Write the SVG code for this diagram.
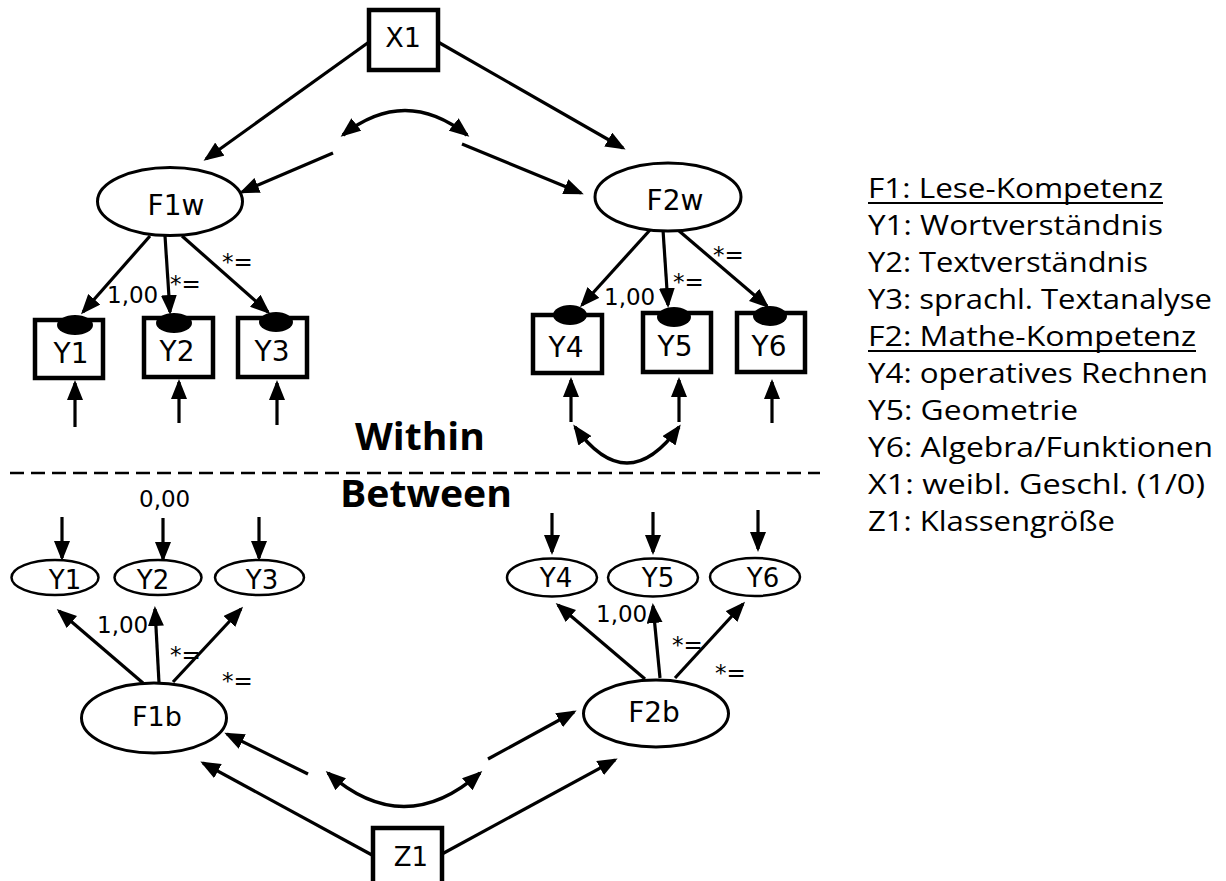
<svg xmlns="http://www.w3.org/2000/svg" width="1226" height="881" viewBox="0 0 1226 881">
  <style>
    .box { fill: #fff; stroke: #000; stroke-width: 4.5; }
    .lat { fill: #fff; stroke: #000; stroke-width: 3; }
    .obs { fill: #fff; stroke: #000; stroke-width: 2.5; }
    .dot { fill: #000; stroke: none; }
    .lbl { font-family: "DejaVu Sans", Verdana, sans-serif; font-size: 28px; fill: #000; text-anchor: middle; }
    .sm { font-family: "DejaVu Sans", Verdana, sans-serif; font-size: 23px; fill: #000; }
    .lvl { font-family: "Open Sans", "Noto Sans", sans-serif; font-weight: bold; font-size: 37px; fill: #000; }
    .leg { font-family: "Open Sans", "Noto Sans", sans-serif; font-size: 28px; fill: #000; }
    .conn path { fill: none; stroke: #000; stroke-width: 3.2; }
    .conn .arr { marker-end: url(#ah); }
    .conn .dbl { marker-start: url(#ah); marker-end: url(#ah); stroke-width: 3.6; }
  </style>
  <defs>
    <!-- filled triangular arrowhead shared by all paths -->
    <marker id="ah" markerUnits="userSpaceOnUse" viewBox="0 0 20 16" markerWidth="20" markerHeight="16" refX="17" refY="8" orient="auto-start-reverse">
      <path d="M0,0 L20,8 L0,16 z" fill="#000"/>
    </marker>
  </defs>

  <rect width="1226" height="881" fill="#fff"/>

  <!-- connectors -->
  <g id="connectors" class="conn">
    <!-- within level: covariate paths -->
    <path class="arr" d="M369,42 L206,159"/>
    <path class="arr" d="M438,42 L623,148"/>
    <path class="dbl" d="M343,135 Q405,86 467,135"/>
    <path class="arr" d="M333,153 L242,192"/>
    <path class="arr" d="M462,144 L581,193"/>
    <!-- within loadings -->
    <path class="arr" d="M150,236 L83,312"/>
    <path class="arr" d="M165,236 L170,312"/>
    <path class="arr" d="M182,236 L268,312"/>
    <path class="arr" d="M650,230 L582,305"/>
    <path class="arr" d="M663,230 L668,305"/>
    <path class="arr" d="M678,230 L767,306"/>
    <!-- within residuals -->
    <path class="arr" d="M75,427 L75,383"/>
    <path class="arr" d="M179,423 L179,382"/>
    <path class="arr" d="M277,425 L277,383"/>
    <path class="arr" d="M571,422 L571,380"/>
    <path class="arr" d="M679,422 L679,380"/>
    <path class="arr" d="M772,423 L772,382"/>
    <path class="dbl" d="M575,427 Q627,499 679,427"/>
    <!-- between intercepts -->
    <path class="arr" d="M62,517 L62,558"/>
    <path class="arr" d="M163,518 L163,559"/>
    <path class="arr" d="M259,517 L259,558"/>
    <path class="arr" d="M552,513 L552,552"/>
    <path class="arr" d="M653,512 L653,552"/>
    <path class="arr" d="M758,510 L758,549"/>
    <!-- between loadings -->
    <path class="arr" d="M143,683 L59,611"/>
    <path class="arr" d="M159,683 L155,609"/>
    <path class="arr" d="M173,682 L241,609"/>
    <path class="arr" d="M645,679 L558,605"/>
    <path class="arr" d="M660,678 L653,606"/>
    <path class="arr" d="M675,678 L743,604"/>
    <!-- between covariate paths -->
    <path class="arr" d="M308,774 L227,734"/>
    <path class="arr" d="M372,855 L203,763"/>
    <path class="dbl" d="M328,773 Q404,840 480,773"/>
    <path class="arr" d="M488,759 L574,712"/>
    <path class="arr" d="M442,854 L615,760"/>
  </g>

  <!-- level separator -->
  <path d="M10,473 L820,473" stroke="#000" stroke-width="2.5" stroke-dasharray="14 7" fill="none"/>
  <text class="lvl" x="355" y="450" textLength="130" lengthAdjust="spacingAndGlyphs">Within</text>
  <text class="lvl" x="340" y="507" textLength="172" lengthAdjust="spacingAndGlyphs">Between</text>

  <!-- path coefficients -->
  <g id="coefficients" class="sm">
    <text x="107" y="303">1,00</text>
    <text x="170" y="292">*=</text>
    <text x="222" y="270">*=</text>
    <text x="604" y="305">1,00</text>
    <text x="673" y="290">*=</text>
    <text x="713" y="263">*=</text>
    <text x="139" y="507">0,00</text>
    <text x="97" y="633">1,00</text>
    <text x="170" y="663">*=</text>
    <text x="222" y="689">*=</text>
    <text x="596" y="622">1,00</text>
    <text x="672" y="653">*=</text>
    <text x="715" y="681">*=</text>
  </g>

  <!-- within level nodes -->
  <g id="X1"><rect class="box" x="369" y="10" width="69" height="60"/><text class="lbl" x="403" y="47" style="font-size:27px">X1</text></g>
  <g id="F1w"><ellipse class="lat" cx="170" cy="201.5" rx="72.5" ry="34"/><text class="lbl" x="176" y="215">F1w</text></g>
  <g id="F2w"><ellipse class="lat" cx="668" cy="197" rx="73" ry="34"/><text class="lbl" x="675" y="210">F2w</text></g>

  <g id="Y1w"><rect class="box" x="35" y="320" width="68" height="58"/><ellipse class="dot" cx="75" cy="325" rx="18" ry="10"/><text class="lbl" x="71" y="363">Y1</text></g>
  <g id="Y2w"><rect class="box" x="144" y="318" width="69" height="59"/><ellipse class="dot" cx="174" cy="323" rx="18" ry="10"/><text class="lbl" x="177" y="361">Y2</text></g>
  <g id="Y3w"><rect class="box" x="238" y="318" width="69" height="59"/><ellipse class="dot" cx="276" cy="322" rx="17" ry="10"/><text class="lbl" x="272" y="361">Y3</text></g>
  <g id="Y4w"><rect class="box" x="533" y="315" width="69" height="58"/><ellipse class="dot" cx="570" cy="315" rx="17" ry="10"/><text class="lbl" x="566" y="357">Y4</text></g>
  <g id="Y5w"><rect class="box" x="643" y="313" width="68" height="59"/><ellipse class="dot" cx="674" cy="317" rx="17" ry="10"/><text class="lbl" x="675" y="356">Y5</text></g>
  <g id="Y6w"><rect class="box" x="737" y="313" width="68" height="59"/><ellipse class="dot" cx="770" cy="316" rx="17" ry="10"/><text class="lbl" x="769" y="356">Y6</text></g>

  <!-- between level nodes -->
  <g id="Y1b"><ellipse class="obs" cx="55" cy="577.5" rx="43.5" ry="17.5"/><text class="lbl" x="65" y="589" style="font-size:26px">Y1</text></g>
  <g id="Y2b"><ellipse class="obs" cx="158" cy="577.5" rx="43.5" ry="17.5"/><text class="lbl" x="153" y="589" style="font-size:26px">Y2</text></g>
  <g id="Y3b"><ellipse class="obs" cx="259.5" cy="577.5" rx="44.5" ry="17.5"/><text class="lbl" x="262" y="589" style="font-size:26px">Y3</text></g>
  <g id="Y4b"><ellipse class="obs" cx="552" cy="577.5" rx="45" ry="19"/><text class="lbl" x="556" y="587" style="font-size:26px">Y4</text></g>
  <g id="Y5b"><ellipse class="obs" cx="653" cy="577.5" rx="45" ry="19"/><text class="lbl" x="658" y="587" style="font-size:26px">Y5</text></g>
  <g id="Y6b"><ellipse class="obs" cx="755" cy="577" rx="45" ry="19"/><text class="lbl" x="763" y="587" style="font-size:26px">Y6</text></g>

  <g id="F1b"><ellipse class="lat" cx="154" cy="718" rx="72.5" ry="35"/><text class="lbl" x="157" y="726" style="font-size:27px">F1b</text></g>
  <g id="F2b"><ellipse class="lat" cx="656" cy="713.5" rx="72.5" ry="33.5"/><text class="lbl" x="654" y="722">F2b</text></g>
  <g id="Z1"><rect class="box" x="373" y="828" width="69" height="70"/><text class="lbl" x="411" y="866" style="font-size:26px">Z1</text></g>

  <!-- legend -->
  <g id="legend" class="leg">
    <text x="868" y="198" textLength="295" lengthAdjust="spacingAndGlyphs">F1: Lese-Kompetenz</text>
    <path d="M868,203 L1163,203" stroke="#000" stroke-width="2"/>
    <text x="868" y="235" textLength="295" lengthAdjust="spacingAndGlyphs">Y1: Wortverständnis</text>
    <text x="868" y="272" textLength="280" lengthAdjust="spacingAndGlyphs">Y2: Textverständnis</text>
    <text x="868" y="309" textLength="344" lengthAdjust="spacingAndGlyphs">Y3: sprachl. Textanalyse</text>
    <text x="868" y="346" textLength="328" lengthAdjust="spacingAndGlyphs">F2: Mathe-Kompetenz</text>
    <path d="M868,351 L1196,351" stroke="#000" stroke-width="2"/>
    <text x="868" y="383" textLength="340" lengthAdjust="spacingAndGlyphs">Y4: operatives Rechnen</text>
    <text x="868" y="420" textLength="210" lengthAdjust="spacingAndGlyphs">Y5: Geometrie</text>
    <text x="868" y="457" textLength="345" lengthAdjust="spacingAndGlyphs">Y6: Algebra/Funktionen</text>
    <text x="868" y="494" textLength="337" lengthAdjust="spacingAndGlyphs">X1: weibl. Geschl. (1/0)</text>
    <text x="868" y="531" textLength="247" lengthAdjust="spacingAndGlyphs">Z1: Klassengröße</text>
  </g>
</svg>
